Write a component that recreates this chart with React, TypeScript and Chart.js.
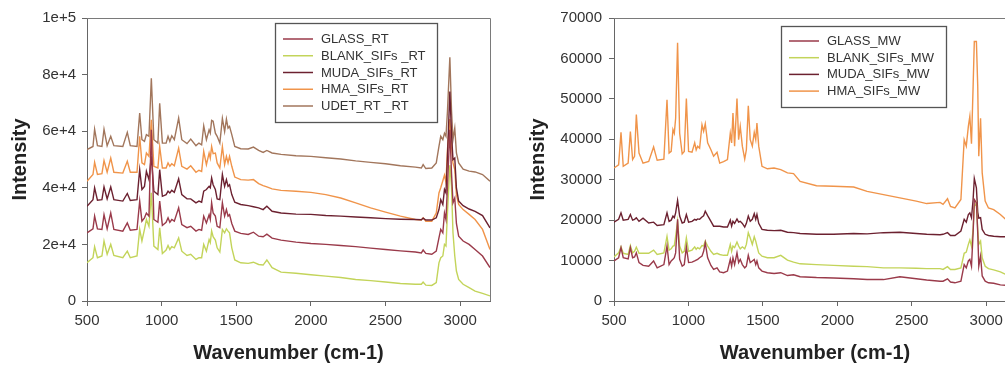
import React, { useEffect, useRef } from "react";
import { Chart, registerables } from "chart.js";

Chart.register(...registerables);

// ---------- Left panel (RT) ----------
const wavenumbersRT = [500,540,551,570,600,614,635,659,680,740,770,790,835,853,868,885,898,915,931,948,975,987,1005,1030,1043,1055,1068,1085,1114,1135,1170,1195,1230,1250,1268,1282,1300,1318,1326,1335,1345,1360,1372,1390,1407,1422,1434,1445,1455,1470,1490,1530,1580,1615,1650,1680,1705,1740,1800,1900,2000,2100,2200,2300,2400,2500,2600,2700,2740,2752,2770,2810,2840,2858,2870,2884,2895,2905,2915,2931,2942,2952,2964,2975,2990,3020,3060,3100,3150,3200];

const glassRT = [24100,25500,30000,25500,25300,30500,25500,31100,25300,24700,27600,25000,25300,35300,28200,29400,31100,30000,60500,28800,27800,35300,26700,27800,29400,27800,28800,28200,32900,27000,25900,26400,24700,25300,25000,30000,27600,30500,28800,34700,31100,30000,26400,25900,34700,30000,32300,30000,30500,27400,24700,23900,23500,24300,22900,22700,23600,22200,21500,20800,20300,20000,19600,19200,18700,18200,17700,17300,17000,18000,16800,16500,17600,22300,25300,24100,31100,28800,40500,60500,45200,34700,36400,27400,22900,21200,20000,18200,15900,11800];

const blankRT = [13500,15300,19200,15300,15900,21200,16500,20000,16100,15300,17600,15300,15900,25300,21200,25300,28800,26400,38200,19400,18200,25900,16800,18000,19600,18200,19200,18800,22300,17600,16100,16500,14700,15300,15300,20000,17600,21700,20600,24700,22700,21500,18800,17300,25300,24100,25500,24700,24100,18800,14500,13500,13300,13700,12900,12700,14500,11800,10200,9800,9300,8800,8300,7600,7200,6700,6200,5900,5900,6700,5600,5500,6500,13500,15300,15900,20000,19400,31100,48000,40500,24100,15900,10600,7600,5900,4700,3500,2700,1800];

const mudaRT = [33500,35800,40000,35600,35800,40300,36100,40300,35800,35300,38000,35500,35800,46400,39400,40500,45800,42900,51100,38800,37600,46400,37000,37600,38800,38200,39100,38400,43200,37600,36100,36100,34700,35300,34900,38800,39400,40500,40000,43500,41100,39400,36100,35800,44700,40500,42900,40500,41100,37600,34900,34100,33700,33300,32900,32300,33500,31700,31100,30700,30600,30200,30000,29700,29400,29100,28900,28800,28700,29300,28600,28600,29400,32300,35800,34100,39400,38200,51100,74000,59300,49900,50500,40000,35300,33700,32500,31700,30200,25800];

const hmaRT = [42300,44700,49000,44700,45000,49600,45500,50500,45500,45200,49400,45500,45500,58200,48800,48200,52300,51100,64000,47600,47000,54600,47000,47000,48800,47600,48500,47800,54000,47600,46600,47800,45500,46200,45800,52900,48200,52300,50500,54600,52100,52300,48800,47000,54600,48200,51100,48800,51100,47600,43800,42900,42700,42900,41500,40800,40300,39600,39100,38800,38400,37600,36400,34700,32900,31400,30000,28800,28600,29400,28200,28200,31100,38200,40000,42500,44500,42000,53500,64300,54600,48800,46400,37600,34100,32300,30600,28800,25300,18200];

const udetRT = [53500,54600,60700,54900,54600,60700,54900,58200,54900,54600,59600,54900,54600,66400,57000,56400,58800,58200,78700,57000,55800,69900,55800,55800,58200,56400,58400,57000,64600,57000,55600,57200,54900,55800,55200,61900,57000,60500,59300,63800,63500,59300,58200,55800,64500,59900,64300,61100,61700,58800,54600,53800,53700,54400,53200,52500,53200,52300,51800,51300,51100,50600,50200,49500,49000,48500,47800,47300,47000,48200,46800,47000,48800,54600,58200,57000,59300,58200,67000,86100,67600,57000,61100,52300,48800,46600,45900,45600,44700,42300];

const labelsRT = ["GLASS_RT", "BLANK_SIFs _RT", "MUDA_SIFs_RT", "HMA_SIFs_RT", "UDET_RT _RT"];
const yTicksRT = [0, 20000, 40000, 60000, 80000, 100000];
const yTickLabelsRT = ["0", "2e+4", "4e+4", "6e+4", "8e+4", "1e+5"];

// ---------- Right panel (MW) ----------
const wavenumbersMW = [500,531,547,562,595,610,625,638,650,668,695,733,766,790,835,856,870,884,896,905,914,927,941,958,972,986,1001,1024,1042,1052,1062,1075,1091,1102,1113,1129,1151,1169,1192,1210,1236,1262,1281,1290,1299,1310,1326,1337,1348,1362,1378,1389,1402,1415,1429,1442,1452,1460,1472,1494,1530,1575,1620,1665,1706,1750,1860,1975,2110,2200,2310,2420,2530,2600,2690,2710,2740,2760,2790,2830,2852,2866,2880,2890,2901,2912,2920,2934,2943,2950,2962,2973,2993,3015,3050,3095,3130,3200];

const glassMW = [9900,10700,13200,10700,10400,13200,10700,10900,11900,9500,8800,8600,9900,8200,9000,13600,9000,9900,10300,10700,11900,20200,10300,8600,9000,13400,9500,9600,9900,10100,10300,10700,11100,12300,14400,10700,8800,7800,8200,7200,7000,7400,10300,8600,10700,9000,11900,9500,10300,9000,8200,8600,11300,9500,9900,10300,9000,9900,8200,7400,7000,6800,7000,6300,6500,6000,5800,5700,5500,5300,5300,6000,5500,5200,4900,4900,5500,4700,4500,4900,9000,8200,9900,10300,8600,16900,25100,24300,16900,8600,11100,6200,4900,4500,4400,4000,3900,3700];

const blankMW = [10900,11900,13400,11800,11500,13700,11900,12300,13300,11800,11800,11800,12600,11500,11900,16000,12600,12900,13600,13700,16000,19700,13600,11900,12300,15600,12300,12600,13400,12800,13200,12900,13700,13600,14800,13600,12300,11500,11800,11500,11300,11300,14000,12300,13600,13200,14600,13600,12900,13400,12900,14000,16900,15600,14000,15900,14800,13600,11900,11100,10700,10700,11300,10100,9600,9200,9000,8800,8600,8500,8200,8200,8100,8000,8000,7800,8500,7800,7800,8200,11800,12100,14000,15100,13600,17700,23400,24300,17700,14000,14800,10700,8600,8000,7700,7200,6600,6200];

const mudaMW = [19500,20200,21800,20000,20200,21400,20000,20200,20600,19700,20500,19300,19500,18700,18900,21800,19700,20000,21000,20600,21800,24900,21000,19300,19500,21400,19500,19700,20200,20000,20300,20200,20800,21100,22200,21100,19700,18500,18500,18500,18300,18300,20000,18500,19700,19200,20300,19500,19700,19200,18300,19200,21000,19700,20200,21600,20200,21400,19200,17700,17500,17400,17500,17000,16900,16700,16500,16500,16700,16600,16900,17000,16700,16500,16400,16500,16900,16200,16200,17300,20200,19500,21400,21800,20600,25100,30300,28000,22000,20500,20600,17700,16500,16200,16000,15900,15900,15600];

const hmaMW = [32900,33700,41700,33300,34100,41900,35000,35800,46100,36600,34100,34500,38100,34800,35100,49800,36600,37000,42400,41500,45200,63900,41500,36400,37000,50100,37000,36800,39100,37400,38300,37800,43600,42000,43800,39100,37400,35800,36800,34100,34500,35000,41500,39100,46500,38300,50100,39900,43200,38300,35100,37400,48300,39900,38300,41700,39900,44000,38300,33300,32700,32900,32500,31700,31500,29600,28500,28400,28200,27100,26300,25500,24700,24100,24400,23900,25300,23400,23000,25100,39900,38300,43200,45700,38900,53100,64200,64200,53100,35800,45200,31700,24700,23000,22600,21400,20200,17700];

const labelsMW = ["GLASS_MW", "BLANK_SIFs_MW", "MUDA_SIFs_MW", "HMA_SIFs_MW"];
const yTicksMW = [0, 10000, 20000, 30000, 40000, 50000, 60000, 70000];
const yTickLabelsMW = ["0", "10000", "20000", "30000", "40000", "50000", "60000", "70000"];

const xTicks = [500, 1000, 1500, 2000, 2500, 3000];
const xTickLabels = ["500", "1000", "1500", "2000", "2500", "3000"];

const colorGlass = "#9a3a4a";
const colorBlank = "#c3d45a";
const colorMuda = "#6c2130";
const colorHma = "#f0944a";
const colorUdet = "#a2765c";

const FONT = '"Liberation Sans", Arial, Helvetica, sans-serif';

const frameLegendPlugin = {
  id: "frameLegend",
  afterDraw(chart: any, _args: any, opts: any) {
    const { ctx, chartArea } = chart;
    const { left, top, right, bottom } = chartArea;
    ctx.save();
    ctx.strokeStyle = "#7a7a7a";
    ctx.lineWidth = 1;
    ctx.beginPath();
    ctx.moveTo(left, Math.round(top) + 0.5);
    ctx.lineTo(Math.round(right) + 0.5, Math.round(top) + 0.5);
    ctx.lineTo(Math.round(right) + 0.5, bottom);
    ctx.stroke();

    const lg = opts.box;
    ctx.strokeStyle = "#555";
    ctx.lineWidth = 1.3;
    ctx.strokeRect(lg.x + 0.5, lg.y + 0.5, lg.w, lg.h);
    ctx.font = `13px ${FONT}`;
    ctx.textBaseline = "middle";
    ctx.textAlign = "left";
    chart.data.datasets.forEach((ds: any, i: number) => {
      const y = lg.firstRow + i * lg.rowGap;
      ctx.strokeStyle = ds.borderColor;
      ctx.lineWidth = 1.5;
      ctx.beginPath();
      ctx.moveTo(lg.lineX0, y);
      ctx.lineTo(lg.lineX1, y);
      ctx.stroke();
      ctx.fillStyle = "#333";
      ctx.fillText(ds.label, lg.textX, y + 0.5);
    });
    ctx.restore();
  },
};

function makeDatasets(xs: number[], series: number[][], labels: string[], colors: string[]) {
  return series.map((ys, k) => ({
    label: labels[k],
    data: xs.map((x, i) => ({ x, y: ys[i] })),
    borderColor: colors[k],
    backgroundColor: colors[k],
    borderWidth: 1.4,
    pointRadius: 0,
    tension: 0,
    fill: false,
  }));
}

function makeOptions(cfg: any) {
  return {
    responsive: false,
    animation: false,
    devicePixelRatio: 1,
    parsing: true,
    layout: { padding: cfg.padding },
    plugins: {
      legend: { display: false },
      tooltip: { enabled: false },
      frameLegend: { box: cfg.legendBox },
    },
    scales: {
      x: {
        type: "linear",
        min: 500,
        max: 3200,
        afterFit: (s: any) => { s.height = 65; },
        afterBuildTicks: (s: any) => { s.ticks = xTicks.map((v) => ({ value: v })); },
        ticks: {
          callback: (v: any) => xTickLabels[xTicks.indexOf(v)],
          font: { family: FONT, size: 15 },
          color: "#333",
          padding: 6,
          maxRotation: 0,
        },
        grid: { display: true, drawOnChartArea: false, drawTicks: true, tickLength: 5, color: "#666" },
        border: { display: true, color: "#666", width: 1 },
        title: {
          display: true,
          text: "Wavenumber (cm-1)",
          font: { family: FONT, size: 20, weight: "bold" },
          color: "#222",
          padding: { top: 0, bottom: 1 },
        },
      },
      y: {
        type: "linear",
        min: 0,
        max: cfg.yMax,
        afterFit: (s: any) => { s.width = cfg.yWidth; },
        afterBuildTicks: (s: any) => { s.ticks = cfg.yTicks.map((v: number) => ({ value: v })); },
        ticks: {
          callback: (v: any) => cfg.yLabels[cfg.yTicks.indexOf(v)],
          font: { family: FONT, size: 15 },
          color: "#333",
          padding: cfg.yPad,
        },
        grid: { display: true, drawOnChartArea: false, drawTicks: true, tickLength: 5, color: "#666" },
        border: { display: true, color: "#666", width: 1 },
        title: {
          display: true,
          text: "Intensity",
          font: { family: FONT, size: 20, weight: "bold" },
          color: "#222",
          padding: { top: cfg.yTitlePad, bottom: 0 },
        },
      },
    },
  };
}

export default function App() {
  const leftRef = useRef<HTMLCanvasElement | null>(null);
  const rightRef = useRef<HTMLCanvasElement | null>(null);

  useEffect(() => {
    const left = new Chart(leftRef.current as HTMLCanvasElement, {
      type: "line",
      data: {
        datasets: makeDatasets(
          wavenumbersRT,
          [glassRT, blankRT, mudaRT, hmaRT, udetRT],
          labelsRT,
          [colorGlass, colorBlank, colorMuda, colorHma, colorUdet]
        ),
      },
      options: makeOptions({
        padding: { top: 18, right: 10, bottom: 0, left: 0 },
        yMax: 100000,
        yWidth: 87,
        yTicks: yTicksRT,
        yLabels: yTickLabelsRT,
        yPad: 6,
        yTitlePad: 8,
        legendBox: { x: 275, y: 23, w: 162, h: 99, firstRow: 39, rowGap: 16.75, lineX0: 283, lineX1: 313, textX: 321 },
      }) as any,
      plugins: [frameLegendPlugin as any],
    });

    const right = new Chart(rightRef.current as HTMLCanvasElement, {
      type: "line",
      data: {
        datasets: makeDatasets(
          wavenumbersMW,
          [glassMW, blankMW, mudaMW, hmaMW],
          labelsMW,
          [colorGlass, colorBlank, colorMuda, colorHma]
        ),
      },
      options: makeOptions({
        padding: { top: 18, right: 24, bottom: 0, left: 0 },
        yMax: 70000,
        yWidth: 114,
        yTicks: yTicksMW,
        yLabels: yTickLabelsMW,
        yPad: 7,
        yTitlePad: 26,
        legendBox: { x: 281, y: 26, w: 165, h: 81, firstRow: 41, rowGap: 16.7, lineX0: 289, lineX1: 319, textX: 327 },
      }) as any,
      plugins: [frameLegendPlugin as any],
    });

    return () => {
      left.destroy();
      right.destroy();
    };
  }, []);

  return (
    <div
      style={{
        position: "fixed",
        left: 0,
        top: 0,
        width: 1005,
        height: 366,
        overflow: "hidden",
        background: "#fff",
      }}
    >
      <canvas ref={leftRef} width={500} height={366} style={{ position: "absolute", left: 0, top: 0, display: "block" }} />
      <canvas ref={rightRef} width={540} height={366} style={{ position: "absolute", left: 500, top: 0, display: "block" }} />
    </div>
  );
}
